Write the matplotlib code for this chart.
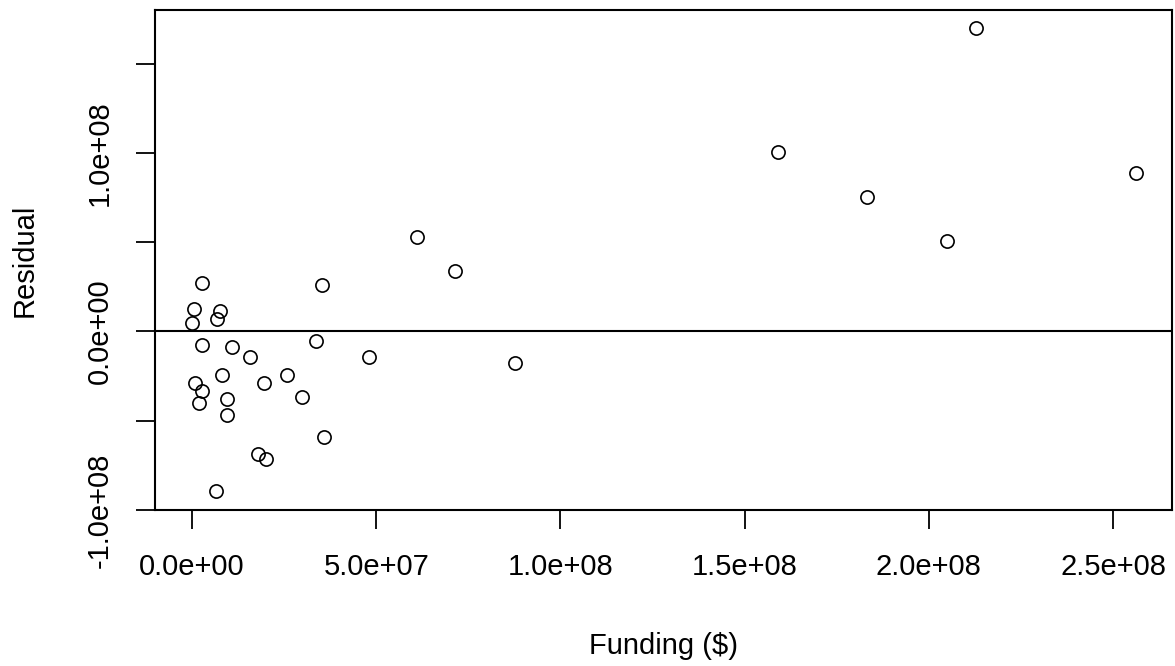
import numpy as np
import matplotlib
matplotlib.use('Agg')
import matplotlib.pyplot as plt

# ----------------------------------------------------------------
# Data: funding vs residual
# ----------------------------------------------------------------
funding = [
  2.129e8, 1.590e8, 1.832e8, 2.048e8, 2.563e8, 0.610e8, 0.713e8, 0.877e8, 0.479e8,
  0.353e8, 0.336e8, 0.109e8, 0.156e8, 0.259e8, 0.194e8, 0.298e8, 0.358e8, 0.178e8, 0.202e8,
  0.026e8, 0.004e8, 0.075e8, 0.067e8, 0.000e8, 0.026e8, 0.080e8, 0.009e8, 0.026e8, 0.018e8,
  0.096e8, 0.096e8, 0.064e8]
residual = [
  1.697e8, 1.002e8, 0.754e8, 0.507e8, 0.889e8, 0.530e8, 0.339e8, -0.175e8, -0.142e8,
  0.262e8, -0.052e8, -0.090e8, -0.142e8, -0.245e8, -0.289e8, -0.366e8, -0.590e8, -0.687e8, -0.715e8,
  0.271e8, 0.127e8, 0.116e8, 0.067e8, 0.049e8, -0.076e8, -0.245e8, -0.288e8, -0.334e8, -0.401e8,
  -0.379e8, -0.467e8, -0.893e8]

xtick_vals = [0, 5e7, 1e8, 1.5e8, 2e8, 2.5e8]
xtick_labels = ['0.0e+00', '5.0e+07', '1.0e+08', '1.5e+08', '2.0e+08', '2.5e+08']
ytick_vals = [-1e8, -5e7, 0, 5e7, 1e8, 1.5e8]
ytick_labels = ['-1.0e+08', '', '0.0e+00', '', '1.0e+08', '']

plt.rcParams['font.family'] = ['Liberation Sans', 'DejaVu Sans']

fig = plt.figure(figsize=(11.75, 6.66), dpi=100)
ax = fig.add_axes([154.5 / 1175, 1 - 510 / 666, (1172 - 154.5) / 1175, 500 / 666])

ax.plot(funding, residual, linestyle='none', marker='o', markersize=9.5,
        markerfacecolor='none', markeredgecolor='black', markeredgewidth=1.2)
ax.axhline(0, color='black', linewidth=1.5)

ax.set_xlim(-1.02e7, 2.66e8)
ax.set_ylim(-1.0e8, 1.80e8)

# R-style axes: separate ticks, full box
ax.set_xticks(xtick_vals)
ax.set_xticklabels(xtick_labels)
ax.set_yticks(ytick_vals)
ax.set_yticklabels(ytick_labels, rotation=90, va='center')
ax.tick_params(axis='both', direction='out', length=14, width=1.3, labelsize=21, colors='black')
ax.tick_params(axis='x', pad=17)
ax.tick_params(axis='y', pad=15)
for s in ax.spines.values():
  s.set_linewidth(1.5)

ax.set_xlabel('Funding ($)', fontsize=21, labelpad=37)
ax.set_ylabel('Residual', fontsize=21, labelpad=34)

fig.savefig('out.png', dpi=100)
